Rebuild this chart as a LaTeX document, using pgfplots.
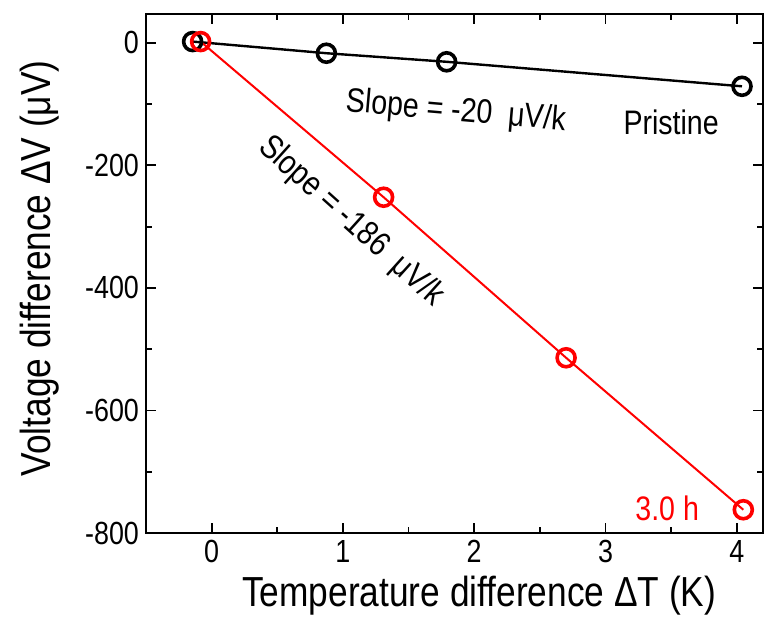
\documentclass[border=0pt]{standalone}
\usepackage{fontspec}
\setmainfont[FakeStretch=0.84]{Liberation Sans}
\usepackage{pgfplots}
\pgfplotsset{compat=1.18}
\definecolor{redline}{RGB}{255,0,0}

\begin{document}
\begin{tikzpicture}
\begin{axis}[
  scale only axis,
  width=308.5pt,height=259.5pt,
  xmin=-0.5,xmax=4.2,ymin=-800,ymax=47,
  xtick={0,1,2,3,4},ytick={0,-200,-400,-600,-800},
  minor xtick={-0.5,0.5,1.5,2.5,3.5},
  minor ytick={-100,-300,-500,-700},
  tick align=inside,
  major tick length=5pt,minor tick length=3pt,
  every tick/.style={line width=0.9pt,black},
  axis line style={line width=1.4pt},
  /pgf/number format/assume math mode=true,
  ticklabel style={font=\fontsize{16}{18}\selectfont},
  xlabel={Temperature difference ΔT (K)},
  ylabel={Voltage difference ΔV (μV)},
  label style={font=\fontsize{21}{24}\selectfont},
  xlabel style={at={(axis description cs:0.54,-0.1214)},anchor=center},
  ylabel style={at={(axis description cs:-0.172,0.51)},anchor=center},
  clip=false
]
  % pristine
  \addplot[black,line width=1.2pt,mark=o,
    mark options={line width=1.8pt,fill=white,solid},mark size=4.5pt]
    coordinates {(-0.145,2)(0.874,-17)(1.79,-31)(4.04,-71)};
  % 3.0 h
  \addplot[redline,line width=1pt,mark=o,
    mark options={line width=1.8pt,fill=white,solid},mark size=4.5pt]
    coordinates {(-0.084,2)(1.31,-252)(2.70,-514)(4.05,-762)};

  \node[rotate=-5,font=\fontsize{17}{19}\selectfont] at (axis cs:1.86,-113) {Slope = -20 \ μV/k};
  \node[font=\fontsize{17}{19}\selectfont] at (axis cs:3.50,-129) {Pristine};
  \node[rotate=-42,font=\fontsize{17}{19}\selectfont] at (axis cs:1.06,-292) {Slope = -186 \ μV/k};
  \node[redline,font=\fontsize{17}{19}\selectfont] at (axis cs:3.47,-759) {3.0 h};
\end{axis}
\pgfresetboundingbox
\path[use as bounding box] ([shift={(-73pt,-43.5pt)}]current axis.south west)
  rectangle ([shift={(1.5pt,7pt)}]current axis.north east);
\end{tikzpicture}
\end{document}
